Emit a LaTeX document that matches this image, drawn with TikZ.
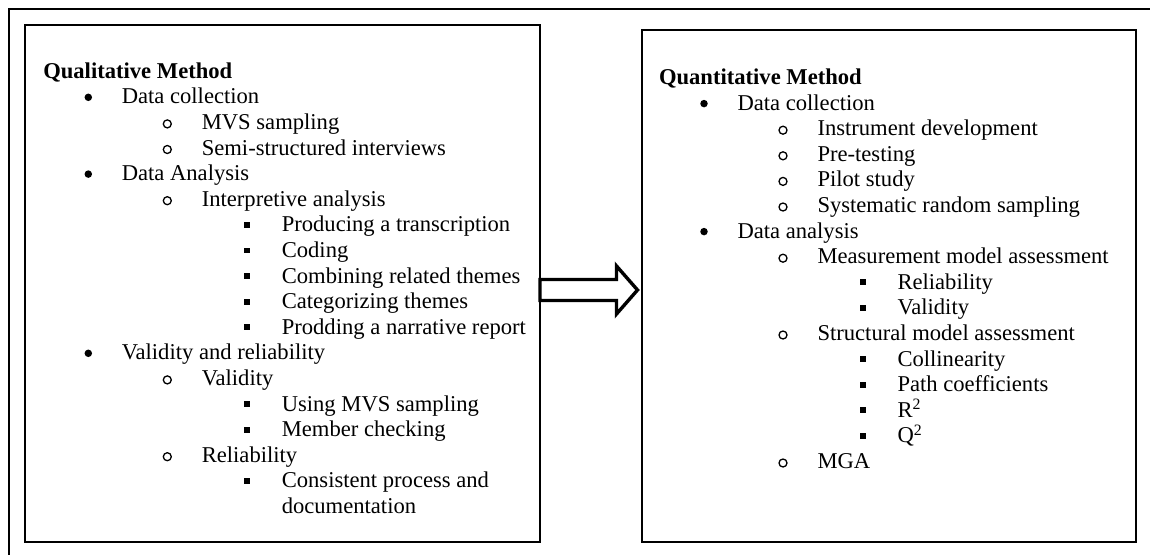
\documentclass[tikz,border=0pt]{standalone}
\usepackage{fontspec}
\setmainfont{Liberation Serif}
\usetikzlibrary{calc}
\begin{document}
\begin{tikzpicture}[x=1pt,y=-1pt,
  frameline/.style={draw=black,line width=2.2pt},
  boxed/.style={draw=black,line width=2pt,rectangle,inner sep=0pt,outer sep=0pt,anchor=north west},
  txt/.style={anchor=base west,inner sep=0pt,outer sep=0pt,font=\fontsize{22.6}{25.6}\selectfont},
  lvlA/.style={circle,fill=black,inner sep=0pt,minimum size=7.5pt},
  lvlB/.style={circle,draw=black,line width=1.3pt,inner sep=0pt,minimum size=8pt},
  lvlC/.style={rectangle,fill=black,inner sep=0pt,minimum size=5.8pt},
  arr/.style={draw=black,fill=white,line width=3.4pt,line join=miter}
]
\useasboundingbox (0,0) rectangle (1150,554);
% outer frame (cut by the page edge on the right and at the bottom)
\draw[frameline] (9,600) -- (9,9) -- (1200,9);
% boxes
\node[boxed,minimum width=515pt,minimum height=517pt] (lbox) at (25,24.5) {};
\node[boxed,minimum width=494pt,minimum height=511.5pt] (rbox) at (642,30) {};
% left list
\foreach [count=\i from 0] \lv/\t in {
  0/Qualitative Method,
  1/Data collection,
  2/MVS sampling,
  2/Semi-structured interviews,
  1/Data Analysis,
  2/Interpretive analysis,
  3/Producing a transcription,
  3/Coding,
  3/Combining related themes,
  3/Categorizing themes,
  3/Prodding a narrative report,
  1/Validity and reliability,
  2/Validity,
  3/Using MVS sampling,
  3/Member checking,
  2/Reliability,
  3/Consistent process and,
  4/documentation}{
  \pgfmathsetmacro\off{{0,78.5,158.5,238.5,238.5}[\lv]}
  \pgfmathsetmacro\yy{78.2+25.6*\i}
  \node[txt] (L\i) at ({43.3+\off},\yy) {\ifnum\lv=0 \bfseries\fi\t};
  \ifnum\lv=1 \node[lvlA] (LB\i) at (88.3,\yy-6.5) {};\fi
  \ifnum\lv=2 \node[lvlB] (LB\i) at (167.3,\yy-5.5) {};\fi
  \ifnum\lv=3 \node[lvlC] (LB\i) at (247.3,\yy-7) {};\fi
}
% right list
\foreach [count=\i from 0] \lv/\t in {
  0/Quantitative Method,
  1/Data collection,
  2/Instrument development,
  2/Pre-testing,
  2/Pilot study,
  2/Systematic random sampling,
  1/Data analysis,
  2/Measurement model assessment,
  3/Reliability,
  3/Validity,
  2/Structural model assessment,
  3/Collinearity,
  3/Path coefficients,
  3/R\textsuperscript{2},
  3/Q\textsuperscript{2},
  2/MGA}{
  \pgfmathsetmacro\off{{0,78.5,158.5,238.5,238.5}[\lv]}
  \pgfmathsetmacro\yy{84.5+25.6*\i}
  \node[txt] (R\i) at ({659+\off},\yy) {\ifnum\lv=0 \bfseries\fi\t};
  \ifnum\lv=1 \node[lvlA] (RB\i) at (704,\yy-6.5) {};\fi
  \ifnum\lv=2 \node[lvlB] (RB\i) at (783,\yy-5.5) {};\fi
  \ifnum\lv=3 \node[lvlC] (RB\i) at (863,\yy-7) {};\fi
}
% block arrow from the left box to the right box
\coordinate (am) at (0,290);
\coordinate (tail) at (lbox.east |- am);
\coordinate (tip) at ($(rbox.west |- am)+(-4.5,0)$);
\draw[arr] ($(tail)+(0,-10.5)$) -- ($(tip)+(-21,-10.5)$) -- ($(tip)+(-21,-24)$)
  -- (tip) -- ($(tip)+(-21,24)$) -- ($(tip)+(-21,10.5)$) -- ($(tail)+(0,10.5)$) -- cycle;
\end{tikzpicture}
\end{document}
